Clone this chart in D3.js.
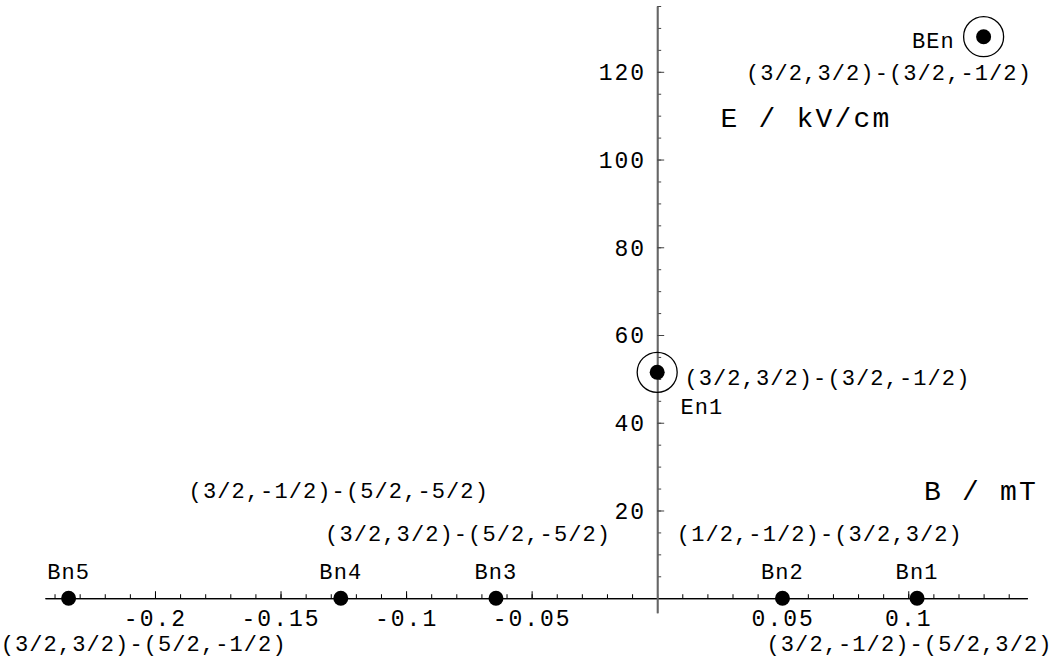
<!DOCTYPE html>
<html>
<head>
<meta charset="utf-8">
<script src="https://cdn.jsdelivr.net/npm/d3@7"></script>
<style>
  body { margin: 0; background: #fff; }
  text { font-family: "Liberation Mono", "Courier New", monospace; fill: #000; }
</style>
</head>
<body>
<svg id="chart"></svg>
<script>
const w = 1054, h = 659;

// crossing points, B in mT and E in kV/cm
const pointNames = ['Bn5', 'Bn4', 'Bn3', 'Bn2', 'Bn1', 'En1', 'BEn'];
const pointB = [-0.2344, -0.126, -0.0642, 0.0499, 0.1035, 0, 0.130];
const pointE = [0, 0, 0, 0, 0, 51.5, 128.0];
const circled = ['En1', 'BEn'];

// text annotations, centred on (B, E)
const labelTexts = [
  'BEn', '(3/2,3/2)-(3/2,-1/2)',
  '(3/2,3/2)-(3/2,-1/2)', 'En1',
  '(3/2,-1/2)-(5/2,-5/2)', '(3/2,3/2)-(5/2,-5/2)', '(1/2,-1/2)-(3/2,3/2)',
  'Bn5', 'Bn4', 'Bn3', 'Bn2', 'Bn1',
  '(3/2,3/2)-(5/2,-1/2)', '(3/2,-1/2)-(5/2,3/2)'
];
const labelB = [0.110, 0.0923, 0.0678, 0.0178, -0.1268, -0.0753, 0.0648,
  -0.2344, -0.126, -0.0642, 0.0499, 0.1035, -0.2045, 0.1005];
const labelE = [127.2, 119.8, 50.2, 43.6, 24.5, 14.8, 14.8,
  6.2, 6.2, 6.2, 6.2, 6.2, -10.4, -10.4];

const axisLabels = ['E / kV/cm', 'B / mT'];
const axisLabelB = [0.0593, 0.129];
const axisLabelE = [109.6, 24.5];

const xMajor = [-0.2, -0.15, -0.1, -0.05, 0.05, 0.1];
const xMinor = d3.range(-24, 15).map(i => i / 100);
const yMajor = [20, 40, 60, 80, 100, 120];
const yMinor = d3.range(1, 28).map(i => i * 5);
const xLimits = [-0.2438, 0.1474];
const yLimits = [-3.3, 135];

const svg = d3.select('#chart')
  .attr('width', w)
  .attr('height', h);

const x = d3.scaleLinear().domain(xLimits).range([45, 1027.3]);
const y = d3.scaleLinear().domain(yLimits).range([612.7, 6]);

// x axis (ticks point up)
const xMinorAxis = d3.axisBottom(x).tickValues(xMinor).tickSize(-4).tickSizeOuter(0).tickFormat('');
const xMajorAxis = d3.axisBottom(x).tickValues(xMajor).tickSize(-7).tickSizeOuter(0)
  .tickPadding(11.5).tickFormat(d => String(d));

const xg = svg.append('g').attr('transform', `translate(0,${y(0)})`);
xg.append('g').call(xMinorAxis);
xg.append('g').call(xMajorAxis);
xg.selectAll('path.domain').attr('stroke', '#000').attr('stroke-width', 1.3);
xg.selectAll('line').attr('stroke', '#000').attr('stroke-width', 1);
xg.selectAll('text').attr('font-size', 23).style('letter-spacing', '2px').attr('font-family', null);

// y axis (ticks point right, labels left)
const yMinorAxis = d3.axisLeft(y).tickValues(yMinor).tickSize(-4).tickSizeOuter(0).tickFormat('');
const yMajorAxis = d3.axisLeft(y).tickValues(yMajor).tickSize(-7).tickSizeOuter(0).tickPadding(11);

const yg = svg.append('g').attr('transform', `translate(${x(0)},0)`);
yg.append('g').call(yMinorAxis);
yg.append('g').call(yMajorAxis);
yg.selectAll('path.domain').attr('stroke', '#666').attr('stroke-width', 1.7);
yg.selectAll('line').attr('stroke', '#444').attr('stroke-width', 1);
yg.selectAll('text').attr('font-size', 23).style('letter-spacing', '2px').attr('font-family', null)
  .attr('dy', '0.34em');

// points
const pts = pointNames.map((n, i) => ({ name: n, b: pointB[i], e: pointE[i] }));

svg.append('g').selectAll('circle')
  .data(pts.filter(d => circled.includes(d.name)))
  .join('circle')
  .attr('cx', d => x(d.b))
  .attr('cy', d => y(d.e))
  .attr('r', 20)
  .attr('fill', 'none')
  .attr('stroke', '#000')
  .attr('stroke-width', 1.3);

svg.append('g').selectAll('circle')
  .data(pts)
  .join('circle')
  .attr('cx', d => x(d.b))
  .attr('cy', d => y(d.e))
  .attr('r', 7.5)
  .attr('fill', '#000');

// annotations
svg.append('g').selectAll('text')
  .data(labelTexts.map((t, i) => ({ t, b: labelB[i], e: labelE[i] })))
  .join('text')
  .attr('x', d => x(d.b))
  .attr('y', d => y(d.e))
  .attr('dy', '0.34em')
  .attr('text-anchor', 'middle')
  .attr('font-size', 22)
  .style('letter-spacing', '1.1px')
  .text(d => d.t);

svg.append('g').selectAll('text')
  .data(axisLabels.map((t, i) => ({ t, b: axisLabelB[i], e: axisLabelE[i] })))
  .join('text')
  .attr('x', d => x(d.b))
  .attr('y', d => y(d.e))
  .attr('dy', '0.34em')
  .attr('text-anchor', 'middle')
  .attr('font-size', 28)
  .style('letter-spacing', '2.2px')
  .text(d => d.t);
</script>
</body>
</html>
